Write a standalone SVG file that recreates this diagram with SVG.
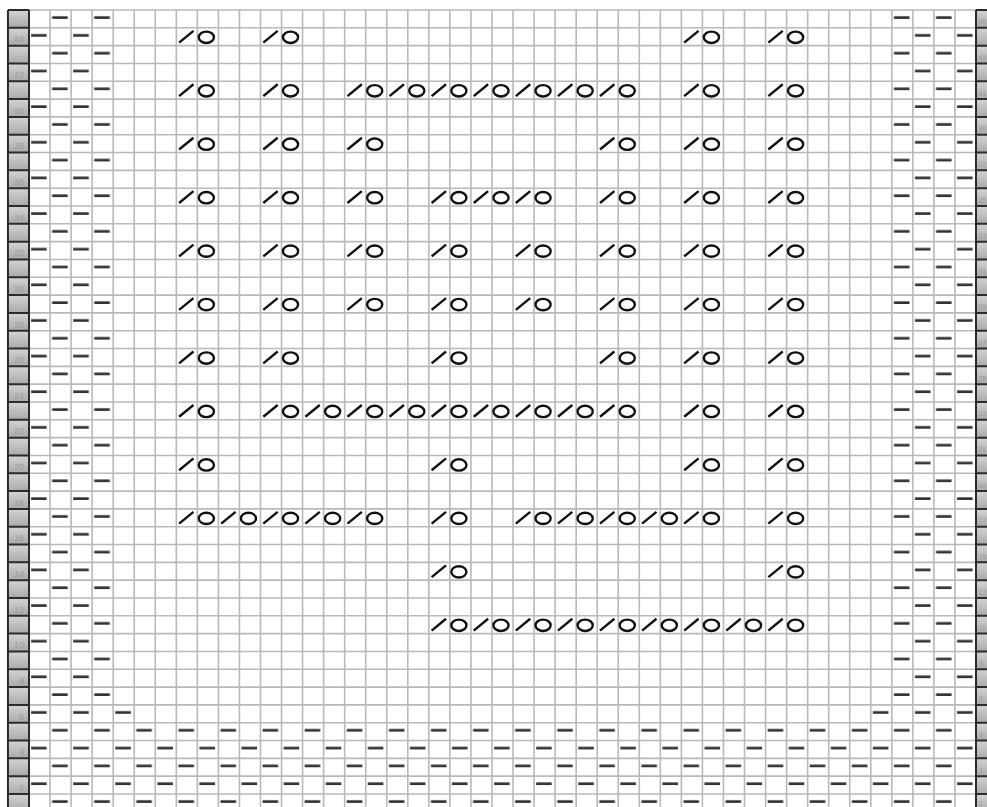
<svg xmlns="http://www.w3.org/2000/svg" xmlns:xlink="http://www.w3.org/1999/xlink" width="987" height="807" viewBox="0 0 987 807">
<style>
.g{fill:none;stroke:#b9b9b9;stroke-width:1.6;vector-effect:non-scaling-stroke}
.dk{fill:none;stroke:#2b2b2b;stroke-width:2;vector-effect:non-scaling-stroke}
.k{fill:none;stroke:#111;stroke-width:2.4;vector-effect:non-scaling-stroke}
.lb{font-family:"Liberation Sans",Arial,sans-serif;font-size:9px;fill:#9c9c9c}
.rs{font-size:7px}
.r{text-anchor:end}
</style>
<defs>
<linearGradient id="lg" gradientUnits="userSpaceOnUse" x1="0" y1="10" x2="0" y2="27.818" spreadMethod="repeat">
<stop offset="0" stop-color="#d4d4d4"/><stop offset="1" stop-color="#a9a9a9"/>
</linearGradient>
<pattern id="pd" patternUnits="userSpaceOnUse" x="0" y="0" width="2" height="2">
<rect x="1.1" y="0.35" width="0.74" height="0.15" fill="#333"/>
<rect x="0.1" y="1.35" width="0.74" height="0.15" fill="#333"/>
</pattern>
<g id="yo">
<path class="k" d="M0.133 0.83L0.817 0.168"/>
<ellipse class="k" cx="1.4275" cy="0.533" rx="0.36" ry="0.318"/>
</g>
</defs>
<rect width="987" height="807" fill="#fff"/>
<rect x="8" y="10" width="21" height="800" fill="url(#lg)"/>
<rect x="976" y="10" width="15" height="800" fill="url(#lg)"/>
<g id="chart" transform="translate(29 10) scale(21.0444 17.8178)">
<path class="g" d="M0 0H45M0 1H45M0 2H45M0 3H45M0 4H45M0 5H45M0 6H45M0 7H45M0 8H45M0 9H45M0 10H45M0 11H45M0 12H45M0 13H45M0 14H45M0 15H45M0 16H45M0 17H45M0 18H45M0 19H45M0 20H45M0 21H45M0 22H45M0 23H45M0 24H45M0 25H45M0 26H45M0 27H45M0 28H45M0 29H45M0 30H45M0 31H45M0 32H45M0 33H45M0 34H45M0 35H45M0 36H45M0 37H45M0 38H45M0 39H45M0 40H45M0 41H45M0 42H45M0 43H45M0 44H45M1 0V46M2 0V46M3 0V46M4 0V46M5 0V46M6 0V46M7 0V46M8 0V46M9 0V46M10 0V46M11 0V46M12 0V46M13 0V46M14 0V46M15 0V46M16 0V46M17 0V46M18 0V46M19 0V46M20 0V46M21 0V46M22 0V46M23 0V46M24 0V46M25 0V46M26 0V46M27 0V46M28 0V46M29 0V46M30 0V46M31 0V46M32 0V46M33 0V46M34 0V46M35 0V46M36 0V46M37 0V46M38 0V46M39 0V46M40 0V46M41 0V46M42 0V46M43 0V46M44 0V46"/>
<path class="dk" d="M-1 0V46M0 0V46M45 0V46M-1 0H0M-1 1H0M-1 2H0M-1 3H0M-1 4H0M-1 5H0M-1 6H0M-1 7H0M-1 8H0M-1 9H0M-1 10H0M-1 11H0M-1 12H0M-1 13H0M-1 14H0M-1 15H0M-1 16H0M-1 17H0M-1 18H0M-1 19H0M-1 20H0M-1 21H0M-1 22H0M-1 23H0M-1 24H0M-1 25H0M-1 26H0M-1 27H0M-1 28H0M-1 29H0M-1 30H0M-1 31H0M-1 32H0M-1 33H0M-1 34H0M-1 35H0M-1 36H0M-1 37H0M-1 38H0M-1 39H0M-1 40H0M-1 41H0M-1 42H0M-1 43H0M-1 44H0M45 0H46M45 1H46M45 2H46M45 3H46M45 4H46M45 5H46M45 6H46M45 7H46M45 8H46M45 9H46M45 10H46M45 11H46M45 12H46M45 13H46M45 14H46M45 15H46M45 16H46M45 17H46M45 18H46M45 19H46M45 20H46M45 21H46M45 22H46M45 23H46M45 24H46M45 25H46M45 26H46M45 27H46M45 28H46M45 29H46M45 30H46M45 31H46M45 32H46M45 33H46M45 34H46M45 35H46M45 36H46M45 37H46M45 38H46M45 39H46M45 40H46M45 41H46M45 42H46M45 43H46M45 44H46"/>
<g id="purl">
<rect x="0" y="0" width="4" height="39" fill="url(#pd)"/>
<rect x="41" y="0" width="4" height="39" fill="url(#pd)"/>
<rect x="0" y="39" width="5" height="1" fill="url(#pd)"/>
<rect x="40" y="39" width="5" height="1" fill="url(#pd)"/>
<rect x="0" y="40" width="45" height="6" fill="url(#pd)"/>
</g>
<g id="lace">
<use href="#yo" x="7" y="1"/><use href="#yo" x="11" y="1"/><use href="#yo" x="31" y="1"/><use href="#yo" x="35" y="1"/>
<use href="#yo" x="7" y="4"/><use href="#yo" x="11" y="4"/><use href="#yo" x="15" y="4"/><use href="#yo" x="17" y="4"/><use href="#yo" x="19" y="4"/><use href="#yo" x="21" y="4"/><use href="#yo" x="23" y="4"/><use href="#yo" x="25" y="4"/><use href="#yo" x="27" y="4"/><use href="#yo" x="31" y="4"/><use href="#yo" x="35" y="4"/>
<use href="#yo" x="7" y="7"/><use href="#yo" x="11" y="7"/><use href="#yo" x="15" y="7"/><use href="#yo" x="27" y="7"/><use href="#yo" x="31" y="7"/><use href="#yo" x="35" y="7"/>
<use href="#yo" x="7" y="10"/><use href="#yo" x="11" y="10"/><use href="#yo" x="15" y="10"/><use href="#yo" x="19" y="10"/><use href="#yo" x="21" y="10"/><use href="#yo" x="23" y="10"/><use href="#yo" x="27" y="10"/><use href="#yo" x="31" y="10"/><use href="#yo" x="35" y="10"/>
<use href="#yo" x="7" y="13"/><use href="#yo" x="11" y="13"/><use href="#yo" x="15" y="13"/><use href="#yo" x="19" y="13"/><use href="#yo" x="23" y="13"/><use href="#yo" x="27" y="13"/><use href="#yo" x="31" y="13"/><use href="#yo" x="35" y="13"/>
<use href="#yo" x="7" y="16"/><use href="#yo" x="11" y="16"/><use href="#yo" x="15" y="16"/><use href="#yo" x="19" y="16"/><use href="#yo" x="23" y="16"/><use href="#yo" x="27" y="16"/><use href="#yo" x="31" y="16"/><use href="#yo" x="35" y="16"/>
<use href="#yo" x="7" y="19"/><use href="#yo" x="11" y="19"/><use href="#yo" x="19" y="19"/><use href="#yo" x="27" y="19"/><use href="#yo" x="31" y="19"/><use href="#yo" x="35" y="19"/>
<use href="#yo" x="7" y="22"/><use href="#yo" x="11" y="22"/><use href="#yo" x="13" y="22"/><use href="#yo" x="15" y="22"/><use href="#yo" x="17" y="22"/><use href="#yo" x="19" y="22"/><use href="#yo" x="21" y="22"/><use href="#yo" x="23" y="22"/><use href="#yo" x="25" y="22"/><use href="#yo" x="27" y="22"/><use href="#yo" x="31" y="22"/><use href="#yo" x="35" y="22"/>
<use href="#yo" x="7" y="25"/><use href="#yo" x="19" y="25"/><use href="#yo" x="31" y="25"/><use href="#yo" x="35" y="25"/>
<use href="#yo" x="7" y="28"/><use href="#yo" x="9" y="28"/><use href="#yo" x="11" y="28"/><use href="#yo" x="13" y="28"/><use href="#yo" x="15" y="28"/><use href="#yo" x="19" y="28"/><use href="#yo" x="23" y="28"/><use href="#yo" x="25" y="28"/><use href="#yo" x="27" y="28"/><use href="#yo" x="29" y="28"/><use href="#yo" x="31" y="28"/><use href="#yo" x="35" y="28"/>
<use href="#yo" x="19" y="31"/><use href="#yo" x="35" y="31"/>
<use href="#yo" x="19" y="34"/><use href="#yo" x="21" y="34"/><use href="#yo" x="23" y="34"/><use href="#yo" x="25" y="34"/><use href="#yo" x="27" y="34"/><use href="#yo" x="29" y="34"/><use href="#yo" x="31" y="34"/><use href="#yo" x="33" y="34"/><use href="#yo" x="35" y="34"/>
</g>
</g>
<g id="labels-left" class="lb">
<text class="r" x="24" y="42.4">44</text><text class="r" x="24" y="78">42</text><text class="r" x="24" y="113.7">40</text><text class="r" x="24" y="149.3">38</text><text class="r" x="24" y="185">36</text><text class="r" x="24" y="220.6">34</text><text class="r" x="24" y="256.3">32</text><text class="r" x="24" y="291.9">30</text><text class="r" x="24" y="327.5">28</text><text class="r" x="24" y="363.2">26</text><text class="r" x="24" y="398.8">24</text><text class="r" x="24" y="434.4">22</text><text class="r" x="24" y="470.1">20</text><text class="r" x="24" y="505.7">18</text><text class="r" x="24" y="541.3">16</text><text class="r" x="24" y="577">14</text><text class="r" x="24" y="612.6">12</text><text class="r" x="24" y="648.2">10</text><text class="r" x="24" y="683.9">8</text><text class="r" x="24" y="719.5">6</text><text class="r" x="24" y="755.2">4</text><text class="r" x="24" y="790.8">2</text>
</g>
<g id="labels-right" class="lb rs">
<text x="978.3" y="24.3">45</text><text x="978.3" y="60">43</text><text x="978.3" y="95.6">41</text><text x="978.3" y="131.2">39</text><text x="978.3" y="166.9">37</text><text x="978.3" y="202.5">35</text><text x="978.3" y="238.1">33</text><text x="978.3" y="273.8">31</text><text x="978.3" y="309.4">29</text><text x="978.3" y="345">27</text><text x="978.3" y="380.7">25</text><text x="978.3" y="416.3">23</text><text x="978.3" y="452">21</text><text x="978.3" y="487.6">19</text><text x="978.3" y="523.2">17</text><text x="978.3" y="558.9">15</text><text x="978.3" y="594.5">13</text><text x="978.3" y="630.1">11</text><text x="979" y="665.8">9</text><text x="979" y="701.4">7</text><text x="979" y="737">5</text><text x="979" y="772.7">3</text><text x="979" y="805.5">1</text>
</g>
</svg>
